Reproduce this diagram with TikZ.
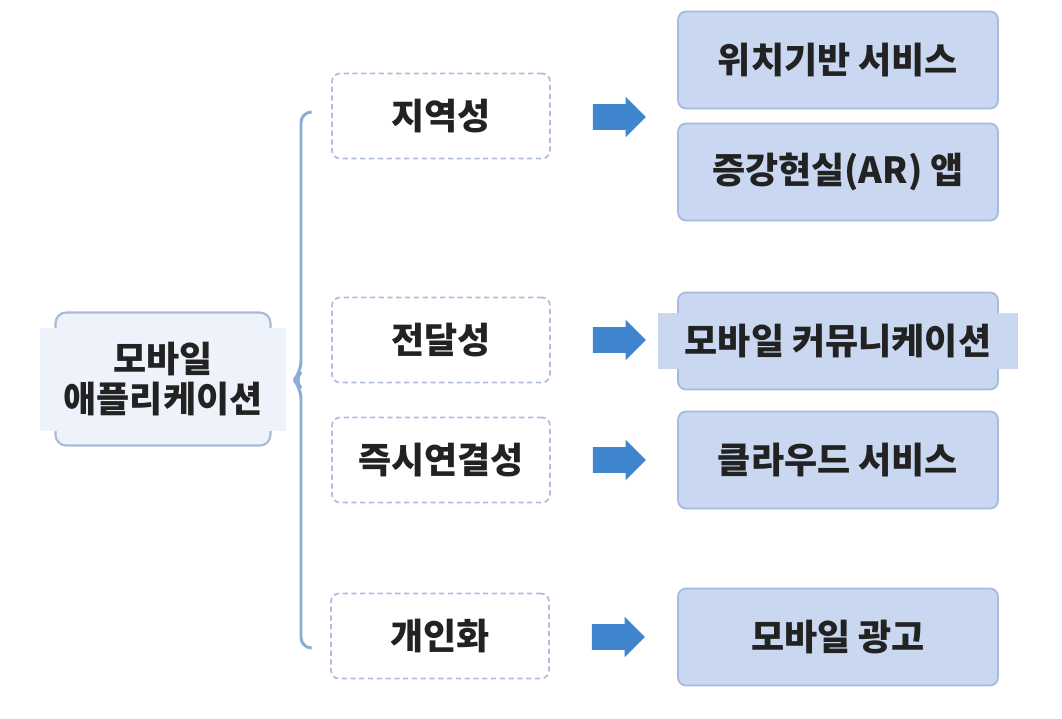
\documentclass[tikz,border=0pt]{standalone}
\usepackage{fontspec}
\setmainfont{Noto Sans CJK KR}
\usetikzlibrary{shapes.arrows}
\definecolor{Sky}{HTML}{C9D7F1}
\definecolor{SkyLine}{HTML}{A6BAE0}
\definecolor{Pale}{HTML}{EEF3FB}
\definecolor{PaleLine}{HTML}{A9BAD6}
\definecolor{Dash}{HTML}{AEBEDC}
\definecolor{Arrow}{HTML}{3F86CF}
\definecolor{Brace}{HTML}{8CADD3}
\definecolor{Ink}{HTML}{222222}

\begin{document}
\begin{tikzpicture}[x=0.02cm,y=-0.02cm,
    every node/.style={font=\fontsize{20.5}{23}\selectfont\bfseries, text=Ink},
    topic/.style={draw=Dash, dash pattern=on 3pt off 2pt, line width=1pt, rounded corners=4.5pt, minimum width=4.36cm, minimum height=1.7cm},
    service/.style={draw=SkyLine, fill=Sky, line width=1pt, rounded corners=4.5pt, minimum width=6.4cm, minimum height=1.94cm},
    blockarrow/.style={single arrow, fill=Arrow, draw=none, inner xsep=0pt, inner ysep=0.25cm, minimum height=1.06cm, single arrow head extend=0.15cm}]
  \useasboundingbox (0,0) rectangle (1062,718);

  % left box
  \node[draw=PaleLine, fill=Pale, line width=1.2pt, rounded corners=6pt, minimum width=4.3cm, minimum height=2.66cm] (appframe) at (163,379) {};
  \node[fill=Pale, minimum width=4.92cm, minimum height=2.06cm, align=center] (app) at (163,379) {모바일\\애플리케이션};

  % brace
  \coordinate (btop) at (311,112);
  \coordinate (bmid) at (294,380);
  \coordinate (bbot) at (311,648);
  \draw[Brace, line width=1.7pt, rounded corners=6pt] (btop) -- (301,112) -- (301,372) -- (bmid) -- (301,388) -- (301,648) -- (bbot);

  % characteristics
  \node[topic] (m1) at (441,116) {지역성};
  \node[topic] (m2) at (441,340) {전달성};
  \node[topic] (m3) at (441,460) {즉시연결성};
  \node[topic] (m4) at (440,636) {개인화};

  % services
  \node[service] (r1) at (838,60) {위치기반 서비스};
  \node[service] (r2) at (838,172) {증강현실(AR) 앱};
  \node[service] (r3frame) at (838,341) {};
  \node[fill=Sky, minimum width=7.2cm, minimum height=1.12cm] (r3) at (838,341) {모바일 커뮤니케이션};
  \node[service] (r4) at (838,460) {클라우드 서비스};
  \node[service] (r5) at (838,637) {모바일 광고};

  \node[blockarrow] (a1) at (613,117) {};
  \node[blockarrow] (a2) at (613,340) {};
  \node[blockarrow] (a3) at (613,460) {};
  \node[blockarrow] (a4) at (612,637) {};
\end{tikzpicture}
\end{document}
